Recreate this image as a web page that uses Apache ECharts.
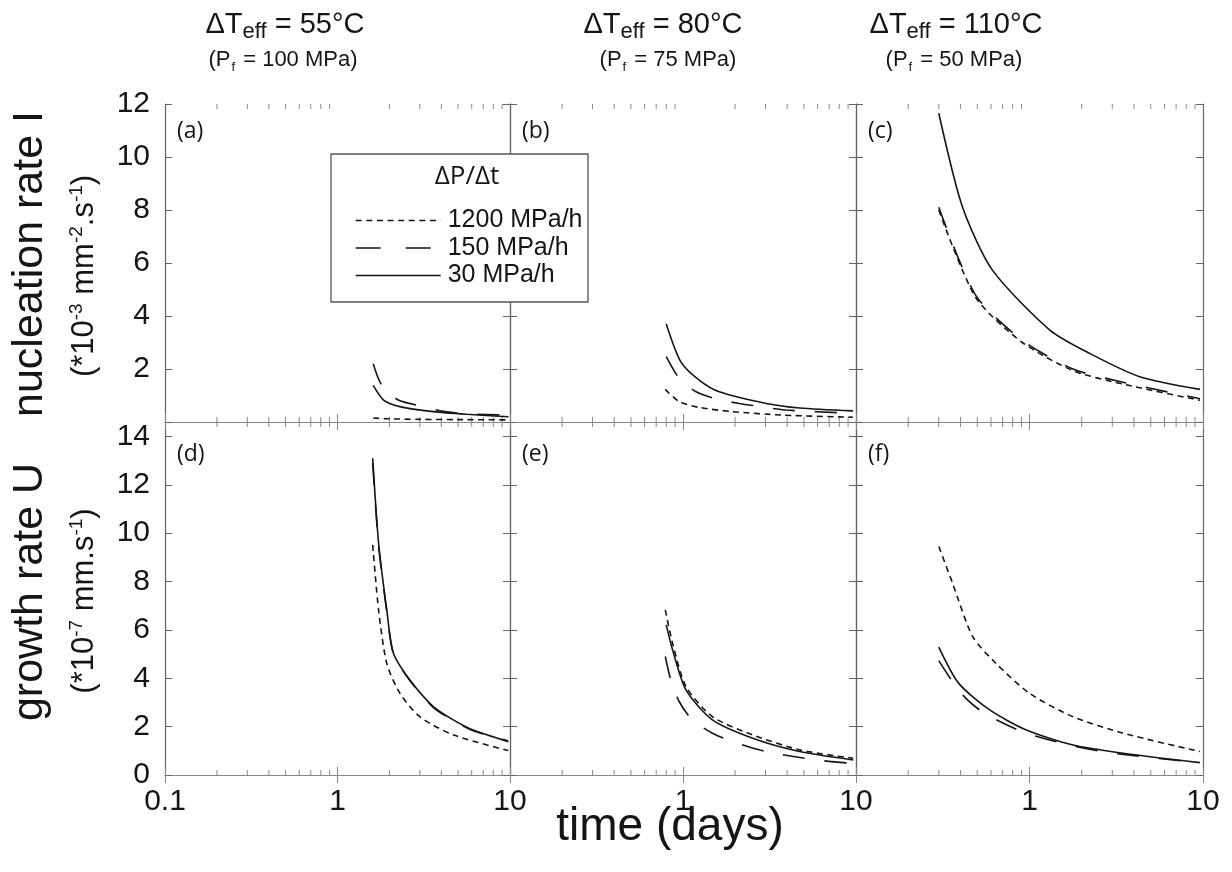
<!DOCTYPE html>
<html><head><meta charset="utf-8">
<script src="https://cdn.jsdelivr.net/npm/echarts@6/dist/echarts.min.js"></script>
<style>html,body{margin:0;padding:0;background:#fff}#c{width:1232px;height:872px}</style>
</head><body><div id="c"></div>
<script>
// ---------- data ----------
const seriesNames = ['1200 MPa/h', '150 MPa/h', '30 MPa/h'];
const panelLabels = ['(a)', '(b)', '(c)', '(d)', '(e)', '(f)'];
const colTemps = ['55°C', '80°C', '110°C'];
const colPressures = ['100 MPa', '75 MPa', '50 MPa'];
const xMinorTicks = [0.2, 0.3, 0.4, 0.5, 0.6, 0.7, 0.8, 0.9, 2, 3, 4, 5, 6, 7, 8, 9];

// (a) nucleation rate, dT = 55
const a1200 = [[1.61, 0.15], [2.0, 0.12], [3.0, 0.10], [5.0, 0.09], [9.8, 0.08]];
const a150 = [[1.61, 2.2], [1.8, 1.4], [2.25, 0.83], [3.07, 0.60], [4.11, 0.40], [5.61, 0.31], [9.8, 0.26]];
const a30 = [[1.61, 1.38], [1.85, 0.83], [2.3, 0.58], [3.59, 0.39], [5.61, 0.29], [9.8, 0.20]];
// (b) nucleation rate, dT = 80
const b1200 = [[0.79, 1.23], [0.95, 0.77], [1.24, 0.55], [1.94, 0.39], [3.78, 0.26], [9.6, 0.18]];
const b150 = [[0.80, 2.47], [0.95, 1.65], [1.19, 1.14], [1.58, 0.86], [2.12, 0.70], [2.89, 0.57], [3.95, 0.45], [9.6, 0.33]];
const b30 = [[0.80, 3.7], [0.97, 2.28], [1.24, 1.58], [1.62, 1.14], [3.03, 0.70], [4.72, 0.53], [9.6, 0.42]];
// (c) nucleation rate, dT = 110
const c1200 = [[0.30, 8.0], [0.49, 4.7], [0.91, 3.0], [1.78, 1.94], [3.46, 1.43], [9.6, 0.82]];
const c150 = [[0.30, 8.1], [0.49, 4.78], [0.91, 3.08], [1.78, 2.0], [3.46, 1.5], [9.6, 0.88]];
const c30 = [[0.30, 11.65], [0.41, 8.13], [0.61, 5.74], [1.31, 3.47], [2.22, 2.59], [4.32, 1.71], [9.6, 1.23]];
// (d) growth rate, dT = 55
const d1200 = [[1.60, 9.52], [1.73, 6.83], [1.93, 4.62], [2.30, 3.38], [3.0, 2.41], [4.69, 1.66], [9.77, 1.01]];
const d150 = [[1.60, 12.9], [1.73, 9.5], [1.93, 6.75], [2.11, 5.0], [2.63, 3.9], [3.59, 2.8], [4.69, 2.25], [6.12, 1.83], [9.77, 1.42]];
const d30 = [[1.60, 13.1], [1.73, 9.6], [1.93, 6.83], [2.11, 5.04], [2.63, 3.93], [3.59, 2.83], [4.69, 2.28], [6.12, 1.86], [9.77, 1.38]];
// (e) growth rate, dT = 80
const e1200 = [[0.79, 6.83], [0.87, 5.45], [1.04, 3.66], [1.48, 2.41], [2.53, 1.66], [4.72, 1.04], [9.64, 0.69]];
const e150 = [[0.79, 4.9], [0.85, 3.93], [0.95, 3.04], [1.13, 2.28], [1.48, 1.73], [1.94, 1.38], [3.03, 0.97], [5.91, 0.62], [9.64, 0.48]];
const e30 = [[0.80, 6.21], [0.87, 5.18], [1.04, 3.52], [1.48, 2.28], [2.53, 1.52], [4.72, 0.97], [9.64, 0.62]];
// (f) growth rate, dT = 110
const f1200 = [[0.30, 9.45], [0.36, 7.94], [0.47, 5.73], [0.64, 4.62], [1.0, 3.38], [1.78, 2.41], [3.46, 1.73], [9.6, 0.97]];
const f150 = [[0.30, 4.73], [0.36, 3.86], [0.43, 3.17], [0.55, 2.55], [0.94, 1.75], [1.70, 1.24], [3.02, 0.90], [9.6, 0.51]];
const f30 = [[0.30, 5.29], [0.39, 3.80], [0.59, 2.69], [0.96, 1.86], [1.78, 1.24], [3.46, 0.90], [9.6, 0.51]];

const panelSeries = [
  [a1200, a150, a30], [b1200, b150, b30], [c1200, c150, c30],
  [d1200, d150, d30], [e1200, e150, e30], [f1200, f150, f30]
];

// ---------- layout & style ----------
const FONT = "'Liberation Sans', Arial, sans-serif";
const FONT2 = "'Open Sans', 'Liberation Sans', sans-serif";
const colLeft = [165, 510, 856], colWidth = [345, 346, 347];
const rowTop = [104, 422], rowHeight = [318, 353];
const yMax = [12, 14.6];
const lineTypes = [[6, 4.5], [22, 20], 'solid'];
const legendLineTypes = [[6, 4.6], [25, 25], 'solid'];
const AX = '#666', AXX = '#888', INK = '#151515';

const grid = [], xAxis = [], yAxis = [], series = [];
for (let r = 0; r < 2; r++) {
  for (let c = 0; c < 3; c++) {
    const g = r * 3 + c;
    grid.push({ left: colLeft[c], top: rowTop[r], width: colWidth[c], height: rowHeight[r] });
    xAxis.push({
      type: 'log', logBase: 10, min: 0.1, max: 10, gridIndex: g, position: 'bottom',
      axisLine: { show: true, lineStyle: { color: AXX, width: 1 } },
      axisTick: { show: true, inside: true, length: 8, lineStyle: { color: AXX } },
      axisLabel: {
        show: r === 1, fontSize: 30, fontFamily: FONT, color: INK, margin: 12,
        showMinLabel: c === 0, showMaxLabel: true,
        formatter: v => (Math.abs(v - 0.1) < 1e-9 ? '0.1' : String(Math.round(v)))
      },
      splitLine: { show: false }
    });
    xAxis.push({
      type: 'log', logBase: 10, min: 0.1, max: 10, gridIndex: g, position: 'top',
      axisLine: { show: true, lineStyle: { color: AXX, width: 1 } },
      axisTick: { show: true, inside: true, length: 8, lineStyle: { color: AXX } },
      axisLabel: { show: false }, splitLine: { show: false }
    });
    yAxis.push({
      type: 'value', min: 0, max: yMax[r], interval: 2, gridIndex: g, position: 'left',
      axisLine: { show: true, lineStyle: { color: AX, width: 1.2 } },
      axisTick: { show: true, inside: true, length: 7, lineStyle: { color: AX } },
      axisLabel: {
        show: c === 0, fontSize: 30, fontFamily: FONT, color: INK, margin: 15,
        formatter: v => {
          if (Math.abs(v - Math.round(v)) > 1e-6) return '';
          if (r === 0 && v === 0) return '';
          return String(v);
        }
      },
      splitLine: { show: false }
    });
    yAxis.push({
      type: 'value', min: 0, max: yMax[r], interval: 2, gridIndex: g, position: 'right',
      axisLine: { show: true, lineStyle: { color: AX, width: 1.2 } },
      axisTick: { show: true, inside: true, length: 7, lineStyle: { color: AX } },
      axisLabel: { show: false }, splitLine: { show: false }
    });
    // minor log ticks (bottom & top edges), placed through the log scale
    series.push({
      type: 'custom', xAxisIndex: 2 * g, yAxisIndex: 2 * g, silent: true, clip: false, z: 1,
      data: xMinorTicks.map(v => [v, 0]),
      renderItem: (params, api) => {
        const cs = params.coordSys;
        const x = api.coord([api.value(0), 0])[0];
        const yb = cs.y + cs.height, yt = cs.y;
        return {
          type: 'group', children: [
            { type: 'line', shape: { x1: x, y1: yb, x2: x, y2: yb - 5 }, style: { stroke: AXX, lineWidth: 1 } },
            { type: 'line', shape: { x1: x, y1: yt, x2: x, y2: yt + 5 }, style: { stroke: AXX, lineWidth: 1 } }
          ]
        };
      }
    });
    for (let s = 0; s < 3; s++) {
      series.push({
        type: 'line', name: seriesNames[s], xAxisIndex: 2 * g, yAxisIndex: 2 * g,
        data: panelSeries[g][s], symbol: 'none', smooth: 0.25,
        lineStyle: { color: INK, width: 1.6, type: lineTypes[s] },
        itemStyle: { color: INK }, z: 3 + s
      });
    }
  }
}

// ---------- text annotations ----------
const graphic = [];
for (let c = 0; c < 3; c++) {
  graphic.push({
    type: 'text', x: [285, 663, 956][c], y: 25, z: 70,
    style: {
      text: '{m|ΔT}{s|eff}{m| = ' + colTemps[c] + '}', align: 'center', verticalAlign: 'middle',
      rich: {
        m: { fontSize: 29, fontFamily: FONT, fill: INK },
        s: { fontSize: 22, fontFamily: FONT, fill: INK, padding: [14, 0, 0, 0] }
      }
    }
  });
  graphic.push({
    type: 'text', x: [283, 668, 954][c], y: 60, z: 70,
    style: {
      text: '{m|(P}{s|f}{m| = ' + colPressures[c] + ')}', align: 'center', verticalAlign: 'middle',
      rich: {
        m: { fontSize: 22, fontFamily: FONT, fill: INK },
        s: { fontSize: 13, fontFamily: FONT, fill: INK, padding: [14, 2, 0, 1] }
      }
    }
  });
}
for (let g = 0; g < 6; g++) {
  const r = Math.floor(g / 3), c = g % 3;
  graphic.push({
    type: 'text', x: colLeft[c] + 12, y: rowTop[r] + (r === 0 ? 27 : 32), z: 70,
    style: { text: panelLabels[g], fontSize: 23, fontFamily: FONT2, fill: INK, align: 'left', verticalAlign: 'middle' }
  });
}
// y titles
graphic.push({
  type: 'text', x: 30, y: 264, rotation: Math.PI / 2, z: 70,
  style: { text: 'nucleation rate I', fontSize: 43, fontFamily: FONT, fill: INK, align: 'center', verticalAlign: 'middle' }
});
graphic.push({
  type: 'text', x: 84, y: 276, rotation: Math.PI / 2, z: 70,
  style: {
    text: '{m|(*10}{p|-3}{m| mm}{p|-2}{m|.s}{p|-1}{m|)}', align: 'center', verticalAlign: 'middle',
    rich: {
      m: { fontSize: 31, fontFamily: FONT, fill: INK },
      p: { fontSize: 19, fontFamily: FONT, fill: INK, padding: [0, 0, 14, 0] }
    }
  }
});
graphic.push({
  type: 'text', x: 30, y: 592, rotation: Math.PI / 2, z: 70,
  style: { text: 'growth rate U', fontSize: 43, fontFamily: FONT, fill: INK, align: 'center', verticalAlign: 'middle' }
});
graphic.push({
  type: 'text', x: 84, y: 601, rotation: Math.PI / 2, z: 70,
  style: {
    text: '{m|(*10}{p|-7}{m| mm.s}{p|-1}{m|)}', align: 'center', verticalAlign: 'middle',
    rich: {
      m: { fontSize: 31, fontFamily: FONT, fill: INK },
      p: { fontSize: 19, fontFamily: FONT, fill: INK, padding: [0, 0, 14, 0] }
    }
  }
});
graphic.push({
  type: 'text', x: 670, y: 827, z: 70,
  style: { text: 'time (days)', fontSize: 46, fontFamily: FONT, fill: INK, align: 'center', verticalAlign: 'middle' }
});
// legend frame and heading
graphic.push({
  type: 'rect', z: 50, shape: { x: 331, y: 154, width: 257, height: 148 },
  style: { fill: '#fff', stroke: '#555', lineWidth: 1.3 }
});
graphic.push({
  type: 'text', x: 467, y: 177, z: 70,
  style: { text: 'ΔP/Δt', fontSize: 26, fontFamily: FONT2, fill: INK, align: 'center', verticalAlign: 'middle' }
});

const option = {
  animation: false,
  backgroundColor: '#fff',
  grid, xAxis, yAxis, series, graphic,
  legend: {
    data: seriesNames.map((n, i) => ({ name: n, lineStyle: { type: legendLineTypes[i], width: 1.4, color: INK } })),
    orient: 'vertical', left: 350, top: 203, z: 60,
    itemWidth: 85, itemHeight: 14, itemGap: 2.5, selectedMode: false,
    itemStyle: { opacity: 0 },
    textStyle: { fontSize: 25, fontFamily: FONT, color: INK, padding: [0, 0, 0, 2] }
  }
};
const chart = echarts.init(document.getElementById('c'), null, { renderer: 'canvas' });
chart.setOption(option);
</script>
</body></html>
